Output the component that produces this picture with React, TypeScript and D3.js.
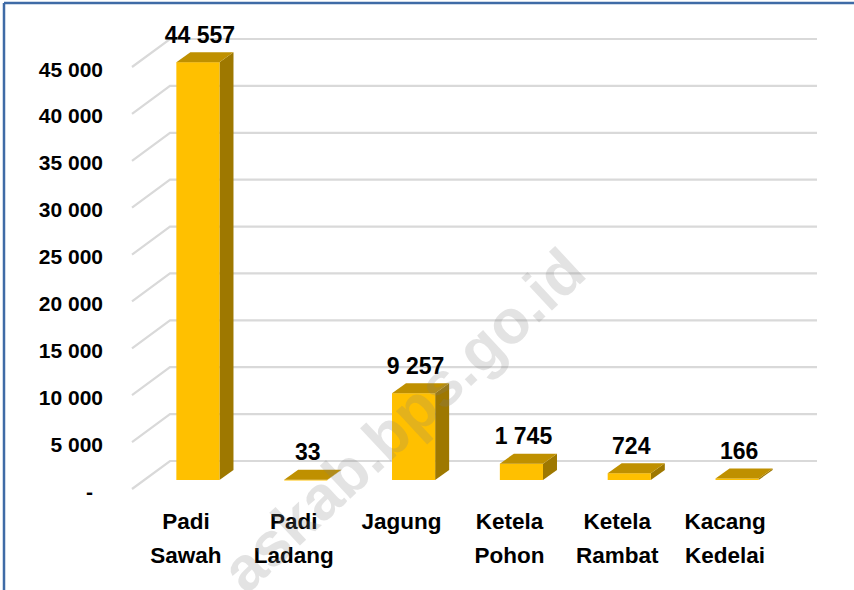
import React from "react";
import * as d3 from "d3";

const categories: string[][] = [
  ["Padi", "Sawah"],
  ["Padi", "Ladang"],
  ["Jagung"],
  ["Ketela", "Pohon"],
  ["Ketela", "Rambat"],
  ["Kacang", "Kedelai"],
];
const values: number[] = [44557, 33, 9257, 1745, 724, 166];
const valueLabels: string[] = ["44 557", "33", "9 257", "1 745", "724", "166"];
const yTicks: number[] = [0, 5000, 10000, 15000, 20000, 25000, 30000, 35000, 40000, 45000];
const yTickLabels: string[] = ["-", "5 000", "10 000", "15 000", "20 000", "25 000", "30 000", "35 000", "40 000", "45 000"];

const W = 854;
const H = 590;
const FONT = "'Liberation Sans', Arial, sans-serif";

// 3D geometry
const FLOOR_DX = -38; // back wall -> front floor edge
const FLOOR_DY = 28;
const BAR_DX = -26; // back wall -> bar front face
const BAR_DY = 19;
const DEPTH_DX = 14; // bar front face -> bar back face
const DEPTH_DY = -10;

export default function App() {
  const keys = categories.map((c) => c.join(" "));
  const x = d3
    .scaleBand<string>()
    .domain(keys)
    .range([170, 817])
    .paddingInner(0.6)
    .paddingOuter(0.3);
  const y = d3.scaleLinear().domain([0, 45000]).range([461, 39]);
  const bw = x.bandwidth();

  return (
    <svg
      width={W}
      height={H}
      style={{ position: "absolute", left: 0, top: 0, background: "#fff" }}
    >
      <rect x={0} y={0} width={W} height={H} fill="#fff" />
      {/* border */}
      <line x1={4} y1={3} x2={W} y2={3} stroke="#3f6ba6" strokeWidth={2.5} />
      <line x1={4} y1={3} x2={4} y2={H} stroke="#3f6ba6" strokeWidth={2.5} />

      {/* gridlines */}
      {yTicks.map((t) => {
        const yb = y(t);
        return (
          <g key={t}>
            <polyline
              points={`${170 + FLOOR_DX},${yb + FLOOR_DY} 170,${yb} 817,${yb}`}
              fill="none"
              stroke="#d9d9d9"
              strokeWidth={2.2}
            />
          </g>
        );
      })}

      {/* y tick labels */}
      {yTicks.map((t, i) => (
        <text
          key={"l" + t}
          x={t === 0 ? 93 : 103}
          y={y(t) + FLOOR_DY + 2}
          dy="0.36em"
          textAnchor="end"
          fontFamily={FONT}
          fontWeight="bold"
          fontSize={21}
          fill="#000"
        >
          {yTickLabels[i]}
        </text>
      ))}

      {/* bars */}
      {values.map((v, i) => {
        const x0 = (x(keys[i]) as number) + BAR_DX;
        const x1 = x0 + bw;
        const yb = y(0) + BAR_DY;
        const yt = y(v) + BAR_DY;
        const top = `${x0},${yt} ${x1},${yt} ${x1 + DEPTH_DX},${yt + DEPTH_DY} ${x0 + DEPTH_DX},${yt + DEPTH_DY}`;
        const side = `${x1},${yt} ${x1 + DEPTH_DX},${yt + DEPTH_DY} ${x1 + DEPTH_DX},${yb + DEPTH_DY} ${x1},${yb}`;
        return (
          <g key={"b" + i}>
            <polygon points={side} fill="#9e7800" />
            <rect x={x0} y={yt} width={bw} height={Math.max(yb - yt, 0.8)} fill="#ffc000" />
            <polygon points={top} fill="#bf9000" />
          </g>
        );
      })}

      {/* value labels */}
      {values.map((v, i) => {
        const cx = (x(keys[i]) as number) + BAR_DX + bw / 2 + 2;
        const yt = y(v) + BAR_DY + DEPTH_DY;
        return (
          <text
            key={"v" + i}
            x={cx}
            y={yt - 9.5}
            textAnchor="middle"
            fontFamily={FONT}
            fontWeight="bold"
            fontSize={23}
            fill="#000"
          >
            {valueLabels[i]}
          </text>
        );
      })}

      {/* category labels */}
      {categories.map((lines, i) => {
        const cx = (x(keys[i]) as number) + bw / 2 + FLOOR_DX;
        return (
          <text
            key={"c" + i}
            x={cx}
            y={529}
            textAnchor="middle"
            fontFamily={FONT}
            fontWeight="bold"
            fontSize={22.5}
            fill="#000"
          >
            {lines.map((ln, j) => (
              <tspan key={j} x={cx} y={529 + j * 33.5}>
                {ln}
              </tspan>
            ))}
          </text>
        );
      })}

      {/* watermark */}
      <text
        transform="translate(589,276) rotate(-43)"
        textAnchor="end"
        fontFamily={FONT}
        fontWeight="bold"
        fontSize={62}
        fill="#7f7f7f"
        fillOpacity={0.22}
      >
        askab.bps.go.id
      </text>
    </svg>
  );
}
